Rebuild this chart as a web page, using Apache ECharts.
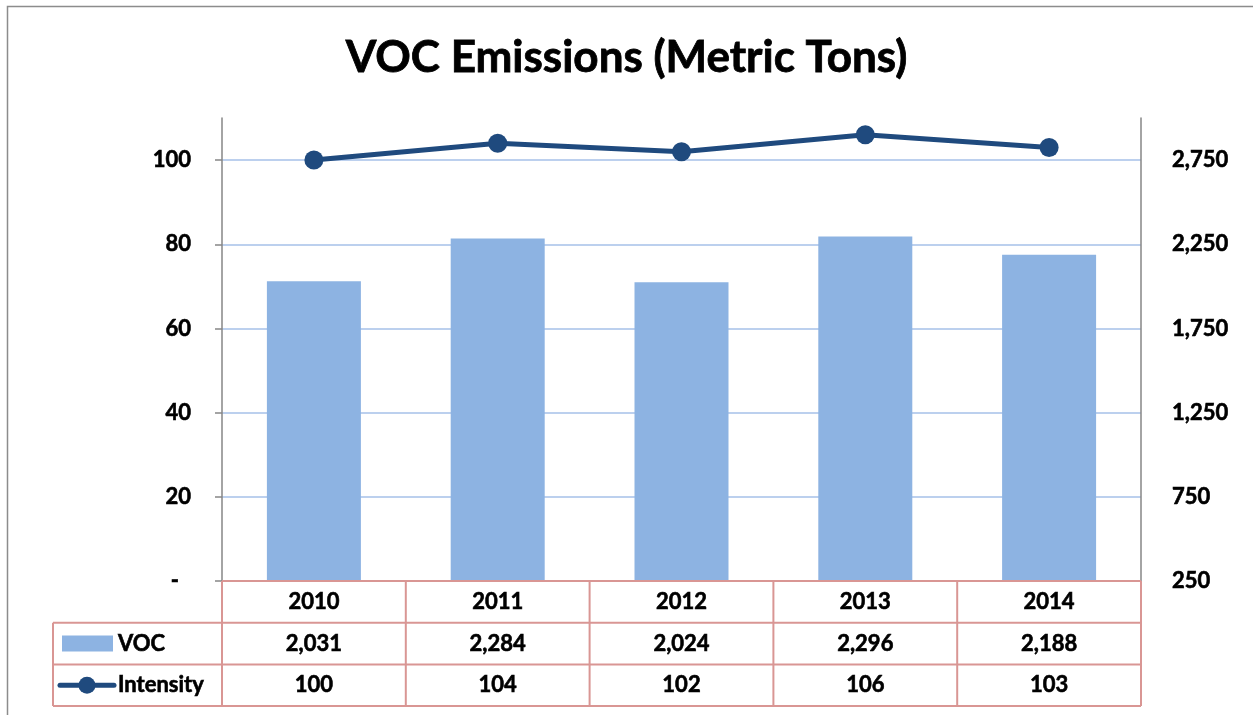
<!DOCTYPE html>
<html>
<head>
<meta charset="utf-8">
<title>VOC Emissions</title>
<script src="https://cdn.jsdelivr.net/npm/echarts@6/dist/echarts.min.js"></script>
<style>
  html, body { margin: 0; padding: 0; background: #fff; }
  #main { width: 1253px; height: 715px; }
</style>
</head>
<body>
<div id="main"></div>
<script>
// data
var years = ["2010", "2011", "2012", "2013", "2014"];
var vocValues = [2031, 2284, 2024, 2296, 2188];
var intensityValues = [100, 104, 102, 106, 103];
var seriesNames = ["VOC", "Intensity"];

var FONT = "Lato";
var gridLeft = 222, gridRight = 1141, gridTop = 118, gridBottom = 581;
var rowH = 41.7;
var tableLeft = 53;
var pink = "#d99694";
var barColor = "#8db3e2";
var lineColor = "#1f4a7e";

// heavy bold text like the original
var txt = { fontFamily: FONT, fontWeight: "bold", fontSize: 22, color: "#000", textBorderColor: "#000", textBorderWidth: 0.6 };

function fmt(v) {
  return String(v).replace(/\B(?=(\d{3})+(?!\d))/g, ",");
}

function cellText(str, x, y, align) {
  return {
    type: "text",
    x: x,
    y: y,
    style: {
      text: str,
      fill: "#000",
      stroke: "#000",
      lineWidth: 0.6,
      font: "bold 22px " + FONT,
      align: align || "center",
      verticalAlign: "middle"
    },
    z: 10
  };
}

// data table under the plot, built from the arrays above
function buildTable() {
  var els = [];
  var colW = (gridRight - gridLeft) / years.length;
  var bottom = gridBottom + rowH * 3;
  // horizontal borders
  els.push({ type: "line", shape: { x1: gridLeft, y1: gridBottom, x2: gridRight, y2: gridBottom }, style: { stroke: pink, lineWidth: 2 }, z: 10 });
  for (var r = 1; r <= 3; r++) {
    var y = gridBottom + rowH * r;
    els.push({ type: "line", shape: { x1: tableLeft, y1: y, x2: gridRight, y2: y }, style: { stroke: pink, lineWidth: 2 }, z: 10 });
  }
  // vertical borders
  for (var i = 0; i <= years.length; i++) {
    var x = gridLeft + colW * i;
    els.push({ type: "line", shape: { x1: x, y1: gridBottom, x2: x, y2: bottom }, style: { stroke: pink, lineWidth: 2 }, z: 10 });
  }
  els.push({ type: "line", shape: { x1: tableLeft, y1: gridBottom + rowH, x2: tableLeft, y2: bottom }, style: { stroke: pink, lineWidth: 2 }, z: 10 });
  // cell text
  [vocValues, intensityValues].forEach(function (vals, ri) {
    vals.forEach(function (v, ci) {
      els.push(cellText(fmt(v), gridLeft + colW * (ci + 0.5), gridBottom + rowH * (ri + 1.5)));
    });
  });
  // legend keys in the first column
  var yVoc = gridBottom + rowH * 1.5;
  var yInt = gridBottom + rowH * 2.5;
  els.push({ type: "rect", shape: { x: 62, y: yVoc - 8, width: 51, height: 16 }, style: { fill: barColor }, z: 10 });
  els.push({ type: "line", shape: { x1: 60, y1: yInt, x2: 114, y2: yInt }, style: { stroke: lineColor, lineWidth: 5, lineCap: "round" }, z: 10 });
  els.push({ type: "circle", shape: { cx: 87, cy: yInt, r: 8.5 }, style: { fill: lineColor }, z: 11 });
  els.push(cellText(seriesNames[0], 118, yVoc, "left"));
  els.push(cellText(seriesNames[1], 118, yInt, "left"));
  // outer chart border
  els.push({ type: "rect", shape: { x: 7.5, y: 6.5, width: 1400, height: 900 }, style: { fill: null, stroke: "#8c8c8c", lineWidth: 1.5 }, z: 0 });
  return els;
}

var myChart = echarts.init(document.getElementById("main"));
var option = {
  animation: false,
  backgroundColor: "#fff",
  title: {
    text: "VOC Emissions (Metric Tons)",
    left: "center",
    top: 31,
    padding: [5, 5, 5, 15],
    textStyle: { fontFamily: FONT, fontWeight: "bold", fontSize: 44, color: "#000", textBorderColor: "#000", textBorderWidth: 0.8 }
  },
  grid: {
    left: gridLeft,
    right: 1253 - gridRight,
    top: gridTop,
    bottom: 715 - gridBottom
  },
  xAxis: {
    type: "category",
    data: years,
    axisLine: { show: false },
    axisTick: { show: false },
    axisLabel: Object.assign({ margin: 10 }, txt)
  },
  yAxis: [
    {
      type: "value",
      min: 0,
      max: 110,
      interval: 20,
      axisLine: { show: true, lineStyle: { color: "#868686", width: 1.5 } },
      axisTick: { show: true, length: 7, lineStyle: { color: "#868686", width: 1.5 } },
      axisLabel: Object.assign({
        margin: 31,
        showMaxLabel: false,
        formatter: function (v) { return v === 0 ? "{d|-}" : String(v); },
        rich: { d: Object.assign({ padding: [0, 12, 0, 0] }, txt) }
      }, txt),
      splitLine: { show: true, showMaxLine: false, lineStyle: { color: "#a6c0e8", width: 1.5 } }
    },
    {
      type: "value",
      min: 250,
      max: 3000,
      interval: 500,
      axisLine: { show: true, lineStyle: { color: "#868686", width: 1.5 } },
      axisTick: { show: false },
      splitLine: { show: false },
      axisLabel: Object.assign({
        margin: 31,
        showMaxLabel: false,
        formatter: function (v) { return fmt(v); }
      }, txt)
    }
  ],
  series: [
    {
      name: seriesNames[0],
      type: "bar",
      yAxisIndex: 1,
      data: vocValues,
      barWidth: 94,
      itemStyle: { color: barColor },
      z: 2
    },
    {
      name: seriesNames[1],
      type: "line",
      yAxisIndex: 0,
      data: intensityValues,
      symbol: "circle",
      symbolSize: 19,
      lineStyle: { color: lineColor, width: 5 },
      itemStyle: { color: lineColor },
      z: 5
    }
  ],
  graphic: buildTable()
};
myChart.setOption(option);
window.addEventListener("resize", function () {
  myChart.resize();
});
</script>
</body>
</html>
